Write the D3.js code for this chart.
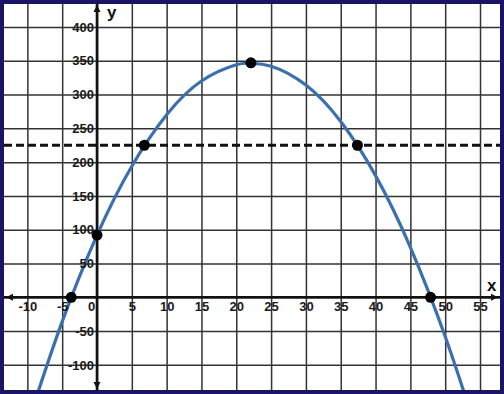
<!DOCTYPE html>
<html>
<head>
<meta charset="utf-8">
<script src="https://cdn.jsdelivr.net/npm/d3@7"></script>
<style>
  html, body { margin: 0; padding: 0; background: #fff; }
  svg { display: block; }
  text { font-family: "Liberation Sans", Arial, sans-serif; }
</style>
</head>
<body>
<svg id="chart" width="504" height="394"></svg>
<script>
// ---- data ----
const xTickValues = [-10, -5, 0, 5, 10, 15, 20, 25, 30, 35, 40, 45, 50, 55];
const yTickValues = [400, 350, 300, 250, 200, 150, 100, 50, -50, -100];
const xGridValues = [-10, -5, 0, 5, 10, 15, 20, 25, 30, 35, 40, 45, 50, 55];
const yGridValues = [400, 350, 300, 250, 200, 150, 100, 50, 0, -50, -100];
// curve samples (x, y) read along the parabola
const curveX = [-9, -5, 0, 5, 10, 15, 20, 22, 25, 30, 35, 40, 45, 50, 54];
const curveY = [-157, -36, 92, 194, 270, 320, 344, 346, 342, 314, 260, 180, 74, -58, -182];
// marked points
const pointX = [-3.7, 0, 6.8, 22.1, 37.4, 47.9];
const pointY = [0, 92, 225, 347, 225, 0];
// horizontal dashed reference line
const refY = [225];

// ---- layout ----
const W = 504, H = 394;
const plot = { left: 4, top: 4, right: 500, bottom: 390 };
const svg = d3.select("#chart");

const x = d3.scaleLinear().domain([-13.355, 57.87]).range([plot.left, plot.right]);
const y = d3.scaleLinear().domain([434.0, -137.2]).range([plot.top, plot.bottom]);

// border
svg.append("rect").attr("x", 0).attr("y", 0).attr("width", W).attr("height", H).attr("fill", "#1b1464");
svg.append("rect").attr("x", plot.left).attr("y", plot.top)
  .attr("width", plot.right - plot.left).attr("height", plot.bottom - plot.top).attr("fill", "#fff");

svg.append("defs").append("clipPath").attr("id", "clip")
  .append("rect").attr("x", plot.left).attr("y", plot.top)
  .attr("width", plot.right - plot.left).attr("height", plot.bottom - plot.top);

const g = svg.append("g").attr("clip-path", "url(#clip)");

// grid via axes
const gridX = g.append("g").attr("transform", `translate(0,${plot.bottom})`)
  .call(d3.axisBottom(x).tickValues(xGridValues).tickSize(-(plot.bottom - plot.top)).tickFormat(""));
const gridY = g.append("g").attr("transform", `translate(${plot.left},0)`)
  .call(d3.axisLeft(y).tickValues(yGridValues).tickSize(-(plot.right - plot.left)).tickFormat(""));
[gridX, gridY].forEach(a => {
  a.select(".domain").remove();
  a.selectAll(".tick line").attr("stroke", "#333").attr("stroke-width", 1.5);
});

// main axes lines
const x0 = x(0), y0 = y(0);
g.append("line").attr("x1", plot.left).attr("x2", plot.right).attr("y1", y0).attr("y2", y0)
  .attr("stroke", "#111").attr("stroke-width", 2.6);
g.append("line").attr("x1", x0).attr("x2", x0).attr("y1", plot.top).attr("y2", plot.bottom)
  .attr("stroke", "#111").attr("stroke-width", 2.6);

// arrowheads
const arrows = [
  [[x0, plot.top + 1], [x0 - 3.5, plot.top + 8], [x0 + 3.5, plot.top + 8]],
  [[x0, plot.bottom - 1], [x0 - 3.5, plot.bottom - 8], [x0 + 3.5, plot.bottom - 8]],
  [[plot.left + 2, y0], [plot.left + 9, y0 - 3.5], [plot.left + 9, y0 + 3.5]],
  [[plot.right - 2, y0], [plot.right - 9, y0 - 3.5], [plot.right - 9, y0 + 3.5]]
];
arrows.forEach(p => g.append("path").attr("d", "M" + p.join("L") + "Z").attr("fill", "#111"));

// tick labels
const fmt = d => String(d);
const xl = svg.append("g").attr("transform", `translate(0,${y0})`)
  .call(d3.axisBottom(x).tickValues(xTickValues).tickFormat(fmt).tickSize(0).tickPadding(4.5));
const yl = svg.append("g").attr("transform", `translate(${x0},0)`)
  .call(d3.axisLeft(y).tickValues(yTickValues).tickFormat(fmt).tickSize(0).tickPadding(3));
[xl, yl].forEach(a => {
  a.select(".domain").remove();
  a.selectAll("text").attr("font-family", "'Liberation Sans', Arial, sans-serif")
    .attr("font-size", 13).attr("font-weight", "bold").attr("fill", "#1a1a1a");
});
xl.selectAll(".tick").filter(d => d === 0).select("text").attr("dx", -6);

// axis names
svg.append("text").attr("x", x0 + 10).attr("y", 18).text("y")
  .attr("font-size", 17).attr("font-weight", "bold").attr("fill", "#111");
svg.append("text").attr("x", 487).attr("y", 291).text("x")
  .attr("font-size", 17).attr("font-weight", "bold").attr("fill", "#111");

// dashed reference line
g.selectAll(".ref").data(refY).join("line")
  .attr("x1", plot.left).attr("x2", plot.right)
  .attr("y1", d => y(d)).attr("y2", d => y(d))
  .attr("stroke", "#111").attr("stroke-width", 3).attr("stroke-dasharray", "8,4");

// curve
const curveData = curveX.map((v, i) => [v, curveY[i]]);
g.append("path").datum(curveData)
  .attr("d", d3.line().x(d => x(d[0])).y(d => y(d[1])).curve(d3.curveNatural))
  .attr("fill", "none").attr("stroke", "#3b6fae").attr("stroke-width", 3.2);

// points
const pts = pointX.map((v, i) => [v, pointY[i]]);
g.selectAll(".pt").data(pts).join("circle")
  .attr("cx", d => x(d[0])).attr("cy", d => y(d[1])).attr("r", 5.5).attr("fill", "#000");
</script>
</body>
</html>
